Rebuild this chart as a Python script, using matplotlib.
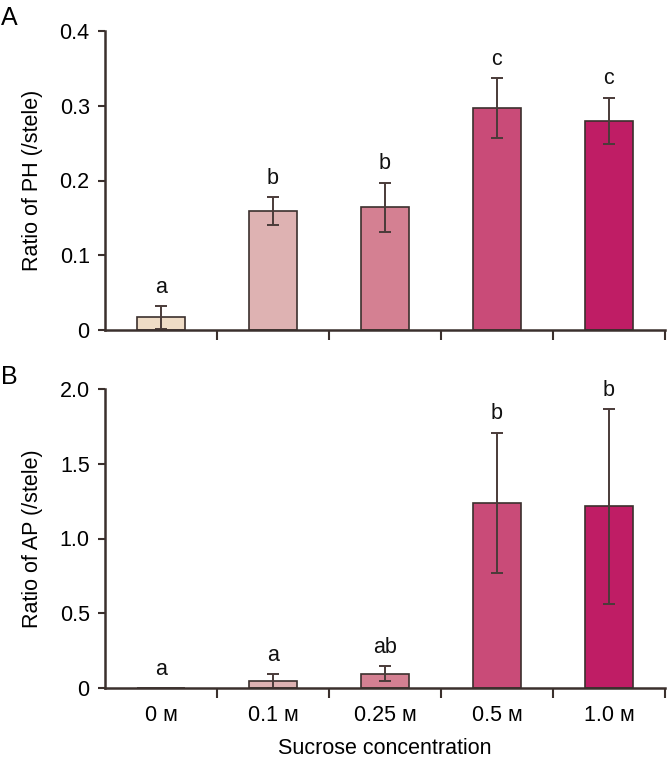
import matplotlib
matplotlib.use("Agg")
import matplotlib.pyplot as plt
import numpy as np

plt.rcParams['font.family'] = ['Liberation Sans', 'DejaVu Sans']

categories = ["0 ᴍ", "0.1 ᴍ", "0.25 ᴍ", "0.5 ᴍ", "1.0 ᴍ"]
ph_values = [0.017, 0.159, 0.164, 0.297, 0.280]
ph_errors = [0.015, 0.019, 0.033, 0.040, 0.031]
ph_letters = ["a", "b", "b", "c", "c"]
ap_values = [0.0, 0.044, 0.096, 1.237, 1.215]
ap_errors = [0.0, 0.050, 0.052, 0.470, 0.650]
ap_letters = ["a", "a", "ab", "b", "b"]
bar_colors = ["#efdcc6", "#deb2b2", "#d48092", "#c94b78", "#bf1d65"]

edge = "#3b302d"
W, H = 667, 760
fig = plt.figure(figsize=(W / 100, H / 100), dpi=100)
FS = 15.5

def px_axes(left, right, top, bottom):
    return fig.add_axes([left / W, 1 - bottom / H, (right - left) / W, (bottom - top) / H])

axA = px_axes(105, 665, 31, 330)
axB = px_axes(105, 665, 389, 688)

def draw(ax, vals, errs, letters, ymax, yticks, yticklabels, ylabel):
    x = np.arange(len(vals))
    ax.bar(x, vals, width=0.42, color=bar_colors, edgecolor=edge, linewidth=1.2, zorder=2)
    for xi, v, e in zip(x, vals, errs):
        if e > 0:
            ax.errorbar(xi, v, yerr=[[min(e, v)], [e]], fmt='none', ecolor="#4a3b39",
                        elinewidth=1.4, capsize=4.5, capthick=1.4, zorder=3)
    for xi, v, e, t in zip(x, vals, errs, letters):
        ax.annotate(t, (xi, v + e), xytext=(0, 6), textcoords='offset points',
                    ha='center', va='bottom', fontsize=FS, color='#111111')
    ax.set_xlim(-0.5, len(vals) - 0.5)
    ax.set_ylim(0, ymax)
    ax.set_yticks(yticks)
    ax.set_yticklabels(yticklabels, fontsize=FS)
    ax.set_xticks(np.arange(len(vals)) + 0.5)
    ax.set_xticklabels([])
    ax.tick_params(axis='x', direction='out', length=7, width=1.5, color=edge)
    ax.tick_params(axis='y', direction='out', length=5, width=1.5, color=edge, pad=6)
    for s in ['top', 'right']:
        ax.spines[s].set_visible(False)
    for s in ['left', 'bottom']:
        ax.spines[s].set_linewidth(1.8)
        ax.spines[s].set_color(edge)
        ax.spines[s].set_zorder(4)
    ax.set_ylabel(ylabel, fontsize=FS)
    ax.yaxis.set_label_coords(-0.111, 0.5)
    ax.patch.set_visible(False)

draw(axA, ph_values, ph_errors, ph_letters, 0.4,
     [0, 0.1, 0.2, 0.3, 0.4], ["0", "0.1", "0.2", "0.3", "0.4"], "Ratio of PH (/stele)")
draw(axB, ap_values, ap_errors, ap_letters, 2.0,
     [0, 0.5, 1.0, 1.5, 2.0], ["0", "0.5", "1.0", "1.5", "2.0"], "Ratio of AP (/stele)")

for i, c in enumerate(categories):
    axB.annotate(c, (i, 0), xytext=(0, -12), textcoords='offset points',
                 ha='center', va='top', fontsize=FS)
axB.annotate("Sucrose concentration", (2, 0), xytext=(0, -36), textcoords='offset points',
             ha='center', va='top', fontsize=FS)

fig.text(1 / W, 1 - 18 / H, "A", fontsize=18, va='center', ha='left')
fig.text(1 / W, 1 - 377 / H, "B", fontsize=18, va='center', ha='left')

fig.savefig("out.png", dpi=100)
